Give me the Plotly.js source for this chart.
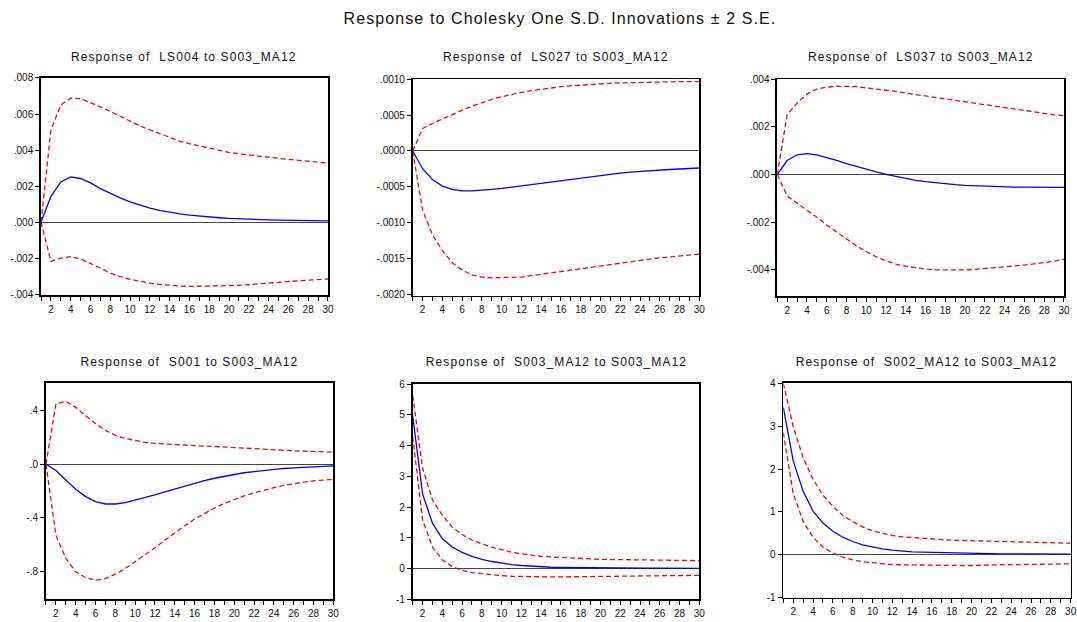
<!DOCTYPE html>
<html><head><meta charset="utf-8">
<script src="https://cdn.plot.ly/plotly-3.0.1.min.js"></script>
<style>html,body{margin:0;padding:0;background:#fff}#chart{width:1077px;height:622px}
#chart .annotation-text{letter-spacing:1.1px}</style>
</head><body><div id="chart"></div>
<script>
const periods = Array.from({length:30},(_, i)=>i+1);
const xTickText = periods.map(p => p % 2 === 0 ? String(p) : '');

// Panel 1: LS004
const ls004Resp  = [0,.00143,.00223,.00251,.00242,.00218,.00186,.00158,.00134,.00112,.00093,.00078,.00065,.00054,.00046,.00039,.00033,.00028,.00024,.00020,.00017,.00015,.00013,.00012,.00011,.00010,.00009,.00008,.00008,.00007];
const ls004Upper = [0,.00512,.0065,.00688,.00685,.00664,.0064,.00614,.00586,.00558,.00534,.00512,.0049,.0047,.0045,.00435,.00422,.0041,.00398,.00387,.00379,.00372,.00365,.00359,.00353,.00348,.00343,.00339,.00333,.00327];
const ls004Lower = [0,-.00218,-.002,-.00192,-.00205,-.00229,-.00255,-.00283,-.00303,-.00318,-.00329,-.00339,-.00346,-.00352,-.00355,-.00357,-.00357,-.00357,-.00356,-.00353,-.00351,-.00348,-.00343,-.00339,-.00335,-.0033,-.00326,-.00322,-.00319,-.00316];
// Panel 2: LS027
const ls027Resp  = [0,-.000248,-.0004,-.00049,-.000537,-.000556,-.000556,-.00055,-.000537,-.000523,-.000505,-.000486,-.000468,-.000449,-.000428,-.000407,-.000388,-.00037,-.000352,-.000336,-.000322,-.000308,-.000296,-.000285,-.000275,-.000266,-.000259,-.000252,-.000245,-.000238];
const ls027Upper = [0,.000313,.000383,.000449,.000514,.00057,.000626,.000678,.00072,.000757,.00079,.000818,.000843,.000864,.000882,.000897,.000909,.00092,.00093,.000939,.000944,.000949,.000954,.000958,.000961,.000963,.000965,.000967,.000967,.000968];
const ls027Lower = [0,-.00083,-.00117,-.00139,-.00156,-.00166,-.00173,-.00176,-.00177,-.00177,-.00177,-.00176,-.00174,-.00172,-.0017,-.00168,-.00166,-.00164,-.00162,-.0016,-.00158,-.00156,-.00154,-.00152,-.0015,-.00149,-.00148,-.00147,-.00145,-.00144];
// Panel 3: LS037
const ls037Resp  = [0,.00059,.00083,.00088,.00083,.00073,.0006,.00046,.00034,.00021,.00011,.00001,-.00008,-.00017,-.00024,-.0003,-.00035,-.00039,-.00042,-.00045,-.00047,-.00049,-.00051,-.00052,-.00053,-.00053,-.00054,-.00054,-.00054,-.00054];
const ls037Upper = [0,.00251,.003,.00338,.00359,.00367,.00371,.00371,.00369,.00364,.0036,.00355,.00349,.00342,.00336,.00329,.00323,.00317,.0031,.00304,.00298,.00292,.00285,.00279,.00273,.00268,.00262,.00256,.00251,.00247];
const ls037Lower = [0,-.0009,-.0012,-.00149,-.00179,-.00212,-.00242,-.00272,-.00299,-.00324,-.00345,-.00362,-.00376,-.00385,-.00392,-.00397,-.004,-.00401,-.00401,-.004,-.00398,-.00395,-.00392,-.00388,-.00384,-.0038,-.00375,-.0037,-.00364,-.00356];
// Panel 4: S001
const s001Resp  = [0,-.0475,-.1175,-.1875,-.2425,-.28,-.2975,-.2975,-.2875,-.27,-.25,-.23,-.2075,-.185,-.1625,-.1425,-.1225,-.105,-.09,-.075,-.064,-.055,-.046,-.0375,-.032,-.0275,-.023,-.02,-.016,-.0125];
const s001Upper = [0,.45,.47,.425,.3625,.3025,.2525,.2175,.1925,.175,.1625,.155,.15,.145,.141,.1375,.135,.1325,.128,.1225,.117,.1125,.109,.105,.102,.1,.097,.095,.092,.09];
const s001Lower = [0,-.53,-.705,-.805,-.8475,-.8675,-.855,-.8225,-.78,-.73,-.68,-.625,-.5675,-.5125,-.46,-.41,-.3675,-.3275,-.2925,-.2625,-.237,-.215,-.194,-.175,-.159,-.145,-.134,-.125,-.118,-.1125];
// Panel 5: S003_MA12
const s003Resp  = [4.98,2.43,1.48,.97,.7,.53,.4,.3,.23,.17,.13,.1,.076,.054,.043,.035,.03,.025,.021,.018,.016,.014,.013,.012,.011,.01,.01,.009,.009,.008];
const s003Upper = [5.63,3.27,2.24,1.73,1.35,1.11,.93,.8,.7,.61,.53,.48,.43,.4,.38,.36,.345,.33,.315,.3,.295,.29,.285,.28,.275,.27,.265,.26,.26,.26];
const s003Lower = [4.3,1.59,.7,.28,.065,-.065,-.13,-.17,-.2,-.23,-.25,-.26,-.265,-.27,-.27,-.27,-.265,-.26,-.255,-.25,-.245,-.24,-.235,-.23,-.23,-.23,-.225,-.22,-.22,-.22];
// Panel 6: S002_MA12
const s002Resp  = [3.44,2.19,1.48,1.02,.74,.55,.41,.31,.23,.18,.14,.11,.086,.07,.062,.055,.047,.04,.035,.03,.027,.025,.022,.02,.019,.018,.017,.017,.016,.016];
const s002Upper = [4.0,2.99,2.27,1.76,1.39,1.13,.92,.77,.65,.56,.5,.45,.42,.4,.385,.37,.355,.34,.335,.33,.32,.31,.305,.3,.3,.3,.295,.29,.28,.27];
const s002Lower = [2.85,1.43,.78,.41,.18,.04,-.055,-.12,-.16,-.19,-.21,-.23,-.235,-.24,-.245,-.25,-.25,-.25,-.25,-.25,-.24,-.23,-.23,-.23,-.225,-.22,-.22,-.22,-.215,-.21];

const panelTitles = ['Response of  LS004 to S003_MA12','Response of  LS027 to S003_MA12','Response of  LS037 to S003_MA12',
  'Response of  S001 to S003_MA12','Response of  S003_MA12 to S003_MA12','Response of  S002_MA12 to S003_MA12'];
const yTickVals = [
  [-0.004,-0.002,0,0.002,0.004,0.006,0.008],
  [-0.002,-0.0015,-0.001,-0.0005,0,0.0005,0.001],
  [-0.004,-0.002,0,0.002,0.004],
  [-0.8,-0.4,0,0.4],
  [-1,0,1,2,3,4,5,6],
  [-1,0,1,2,3,4]];
const yTickText = [
  ['-.004','-.002','.000','.002','.004','.006','.008'],
  ['-.0020','-.0015','-.0010','-.0005','.0000','.0005','.0010'],
  ['-.004','-.002','.000','.002','.004'],
  ['-.8','-.4','.0','.4'],
  ['-1','0','1','2','3','4','5','6'],
  ['-1','0','1','2','3','4']];
const yRanges = [[-0.00405,0.008],[-0.00202,0.001],[-0.0051,0.004],[-1.01,0.605],[-1,6],[-1,4]];

const series = [
  [ls004Resp, ls004Upper, ls004Lower],
  [ls027Resp, ls027Upper, ls027Lower],
  [ls037Resp, ls037Upper, ls037Lower],
  [s001Resp, s001Upper, s001Lower],
  [s003Resp, s003Upper, s003Lower],
  [s002Resp, s002Upper, s002Lower]];

// layout geometry (paper fractions)
const xDomains = [[0.0381,0.3045],[0.3832,0.6493],[0.7217,0.9879],[0.0427,0.3095],[0.3832,0.6493],[0.7273,0.9941]];
const yDomains = [[0.5257,0.8746],[0.5246,0.8725],[0.5241,0.8725],[0.0365,0.3838],[0.0365,0.3822],[0.0391,0.3838]];

const FONT = 'Liberation Sans, Arial, sans-serif';
const traces = [];
const layout = {
  width:1077, height:622, margin:{l:0,r:0,t:0,b:0},
  paper_bgcolor:'#fff', plot_bgcolor:'#fff', showlegend:false,
  font:{family:FONT, size:10, color:'#111'},
  annotations:[], 
};
layout.annotations.push({text:'Response to Cholesky One S.D. Innovations \u00b1 2 S.E.', xref:'paper', yref:'paper',
  x:560/1077, y:1-18.5/622, xanchor:'center', yanchor:'middle', showarrow:false, font:{family:FONT,size:16,color:'#111'}});

for (let i=0;i<6;i++){
  const sfx = i===0 ? '' : String(i+1);
  const xa = 'x'+sfx, ya = 'y'+sfx;
  const [r,u,l] = series[i];
  traces.push({x:periods, y:u, xaxis:xa, yaxis:ya, mode:'lines', line:{color:'#ff0000', width:1.3, dash:'5px,3px'}, hoverinfo:'skip'});
  traces.push({x:periods, y:l, xaxis:xa, yaxis:ya, mode:'lines', line:{color:'#ff0000', width:1.3, dash:'5px,3px'}, hoverinfo:'skip'});
  traces.push({x:periods, y:r, xaxis:xa, yaxis:ya, mode:'lines', line:{color:'#0000ff', width:1.3}, hoverinfo:'skip'});
  layout['xaxis'+sfx] = {domain:xDomains[i], anchor:ya, range:[1,30], tickvals:periods, ticktext:xTickText,
    ticks:'outside', ticklen:4, tickcolor:'#000', tickwidth:1, showgrid:false, zeroline:false,
    showline:true, mirror:true, linecolor:'#000', linewidth:1.8, tickfont:{family:FONT,size:10,color:'#111'}, fixedrange:true};
  layout['yaxis'+sfx] = {domain:yDomains[i], anchor:xa, range:yRanges[i], tickvals:yTickVals[i], ticktext:yTickText[i],
    ticks:'outside', ticklen:4, tickcolor:'#000', tickwidth:1, showgrid:false, zeroline:true, zerolinecolor:'#444', zerolinewidth:1,
    showline:true, mirror:true, linecolor:'#000', linewidth:1.8, tickfont:{family:FONT,size:10,color:'#111'}, fixedrange:true};
  const row = i<3 ? 0 : 1;
  layout.annotations.push({text:panelTitles[i], xref:'paper', yref:'paper',
    x:(xDomains[i][0]+xDomains[i][1])/2, y: row===0 ? 1-57/622 : 1-362/622, xanchor:'center', yanchor:'middle',
    showarrow:false, font:{family:FONT,size:12,color:'#111'}});
}
Plotly.newPlot('chart', traces, layout, {staticPlot:true, displayModeBar:false});
</script></body></html>
